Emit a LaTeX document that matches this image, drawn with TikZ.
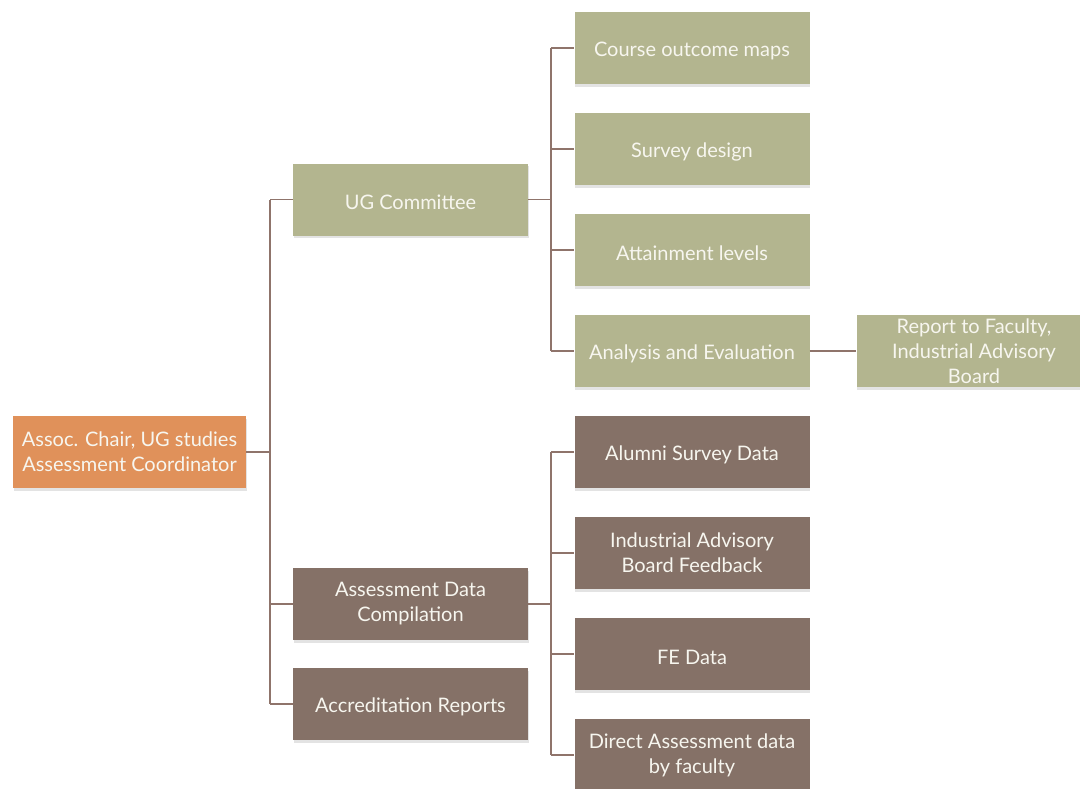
\documentclass[tikz,border=0pt]{standalone}
\usepackage{fontspec}
\setmainfont{Lato}
\usetikzlibrary{shadows}
\definecolor{boxgreen}{HTML}{B3B58F}
\definecolor{boxbrown}{HTML}{857167}
\definecolor{boxorange}{HTML}{E0915A}
\definecolor{linkcol}{HTML}{8F746B}
\definecolor{txtcol}{HTML}{F7F6EF}
\tikzset{
  basebox/.style={minimum width=235pt, minimum height=72pt, inner sep=2pt,
    align=center, text=txtcol, font=\fontsize{20}{25}\selectfont,
    execute at begin node={\rule{0pt}{21pt}},
    drop shadow={opacity=0.22, shadow xshift=0.5pt, shadow yshift=-2.5pt}},
  gbox/.style={basebox, fill=boxgreen},
  bbox/.style={basebox, fill=boxbrown},
  obox/.style={basebox, fill=boxorange, minimum width=233pt},
  link/.style={draw=linkcol, line width=1.3pt}
}
\begin{document}
\begin{tikzpicture}[x=1pt,y=-1pt]
\useasboundingbox (0,0) rectangle (1080,788);
\clip (0,0) rectangle (1080,788);
\coordinate (j1) at (270,452);
\coordinate (j2) at (551,199.5);
\coordinate (j3) at (551,604);
\node[obox] (root) at (129.5,452) {Assoc. Chair, UG studies\\Assessment Coordinator};
\node[gbox] (ugc) at (410.5,199.5) {UG Committee};
\node[bbox] (adc) at (410.5,604) {Assessment Data\\Compilation};
\node[bbox] (acr) at (410.5,704) {Accreditation Reports};
\node[gbox] (com) at (692,48) {Course outcome maps};
\node[gbox] (sd) at (692,149) {Survey design};
\node[gbox] (al) at (692,250) {Attainment levels};
\node[gbox] (ae) at (692,351) {Analysis and Evaluation};
\node[gbox] (rep) at (974,351) {Report to Faculty,\\Industrial Advisory\\Board};
\node[bbox] (asd) at (692,452) {Alumni Survey Data};
\node[bbox] (iab) at (692,553) {Industrial Advisory\\Board Feedback};
\node[bbox] (fe) at (692,654) {FE Data};
\node[bbox] (dad) at (692,755) {Direct Assessment data\\by faculty};
\path[link] (root.east) -- (j1);
\path[link] (j1 |- ugc) -- (j1 |- acr);
\path[link] (j1 |- ugc) -- (ugc.west);
\path[link] (j1 |- adc) -- (adc.west);
\path[link] (j1 |- acr) -- (acr.west);
\path[link] (ugc.east) -- (j2);
\path[link] (j2 |- com) -- (j2 |- ae);
\path[link] (j2 |- com) -- (com.west);
\path[link] (j2 |- sd) -- (sd.west);
\path[link] (j2 |- al) -- (al.west);
\path[link] (j2 |- ae) -- (ae.west);
\path[link] (adc.east) -- (j3);
\path[link] (j3 |- asd) -- (j3 |- dad);
\path[link] (j3 |- asd) -- (asd.west);
\path[link] (j3 |- iab) -- (iab.west);
\path[link] (j3 |- fe) -- (fe.west);
\path[link] (j3 |- dad) -- (dad.west);
\path[link] (ae.east) -- (rep.west);
\end{tikzpicture}
\end{document}
